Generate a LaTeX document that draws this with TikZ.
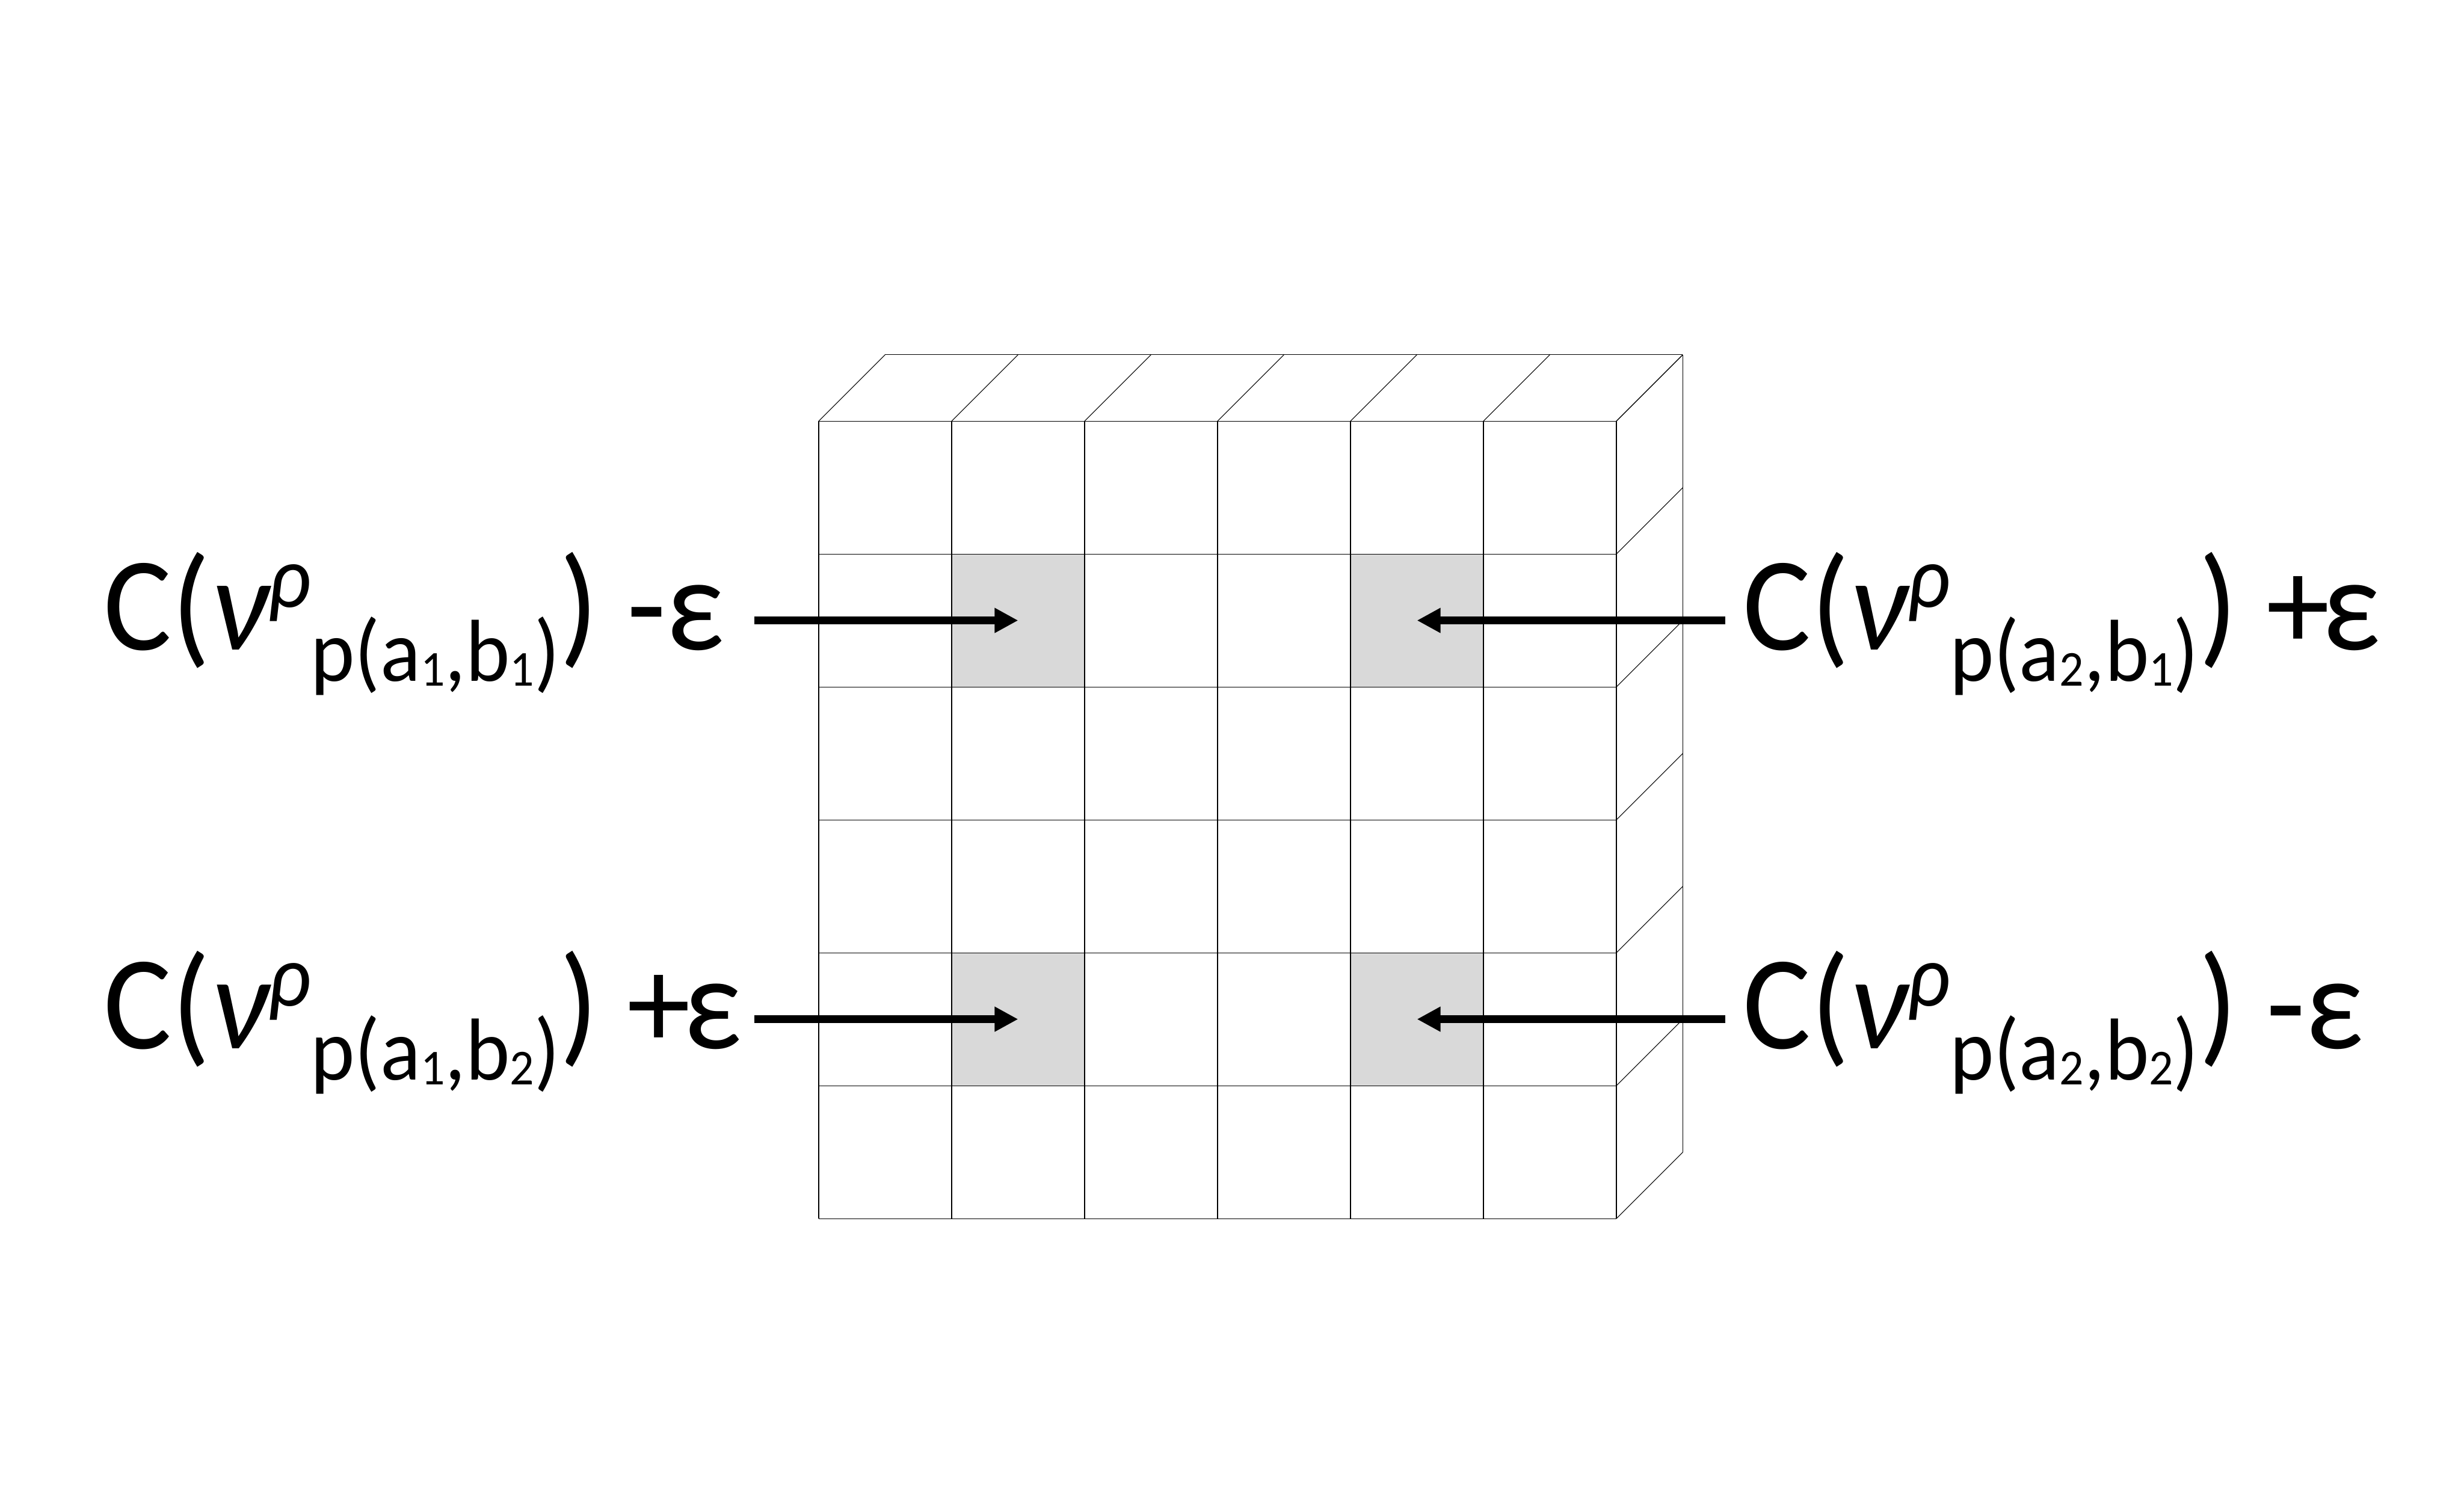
\documentclass[tikz,border=0pt]{standalone}
\usepackage{fontspec}
\usepackage{graphicx}
\setmainfont{Carlito}
\usetikzlibrary{arrows.meta}
\newcommand{\cvlabel}[3]{\scalebox{0.955}[1]{C({\itshape ν}\raisebox{27pt}{\fontsize{56}{60}\selectfont\itshape ρ}\raisebox{-20pt}{\fontsize{56}{60}\selectfont p(a\raisebox{-3pt}{\fontsize{32}{36}\selectfont #1},b\raisebox{-3pt}{\fontsize{32}{36}\selectfont #2})}) #3}}
\tikzset{
  gridline/.style={line width=0.42pt, draw=black},
  hotcell/.style={fill=cellgray, draw=none, minimum width=84.6pt, minimum height=84.6pt, inner sep=0pt},
  arr/.style={line width=4.9pt, -{Triangle[length=15pt,width=15pt]}},
  lbl/.style={inner sep=0pt, anchor=base west, font=\fontsize{85}{100}\selectfont}
}
\definecolor{cellgray}{HTML}{D9D9D9}
\begin{document}
\begin{tikzpicture}[x=1pt,y=-1pt]
\useasboundingbox (0,0) rectangle (1568,958.3);
\def\cs{84.6}
\def\dd{42.2}
% highlighted cells (centres)
\node[hotcell] (g11) at ({521+1.5*\cs},{268+1.5*\cs}) {};
\node[hotcell] (g21) at ({521+4.5*\cs},{268+1.5*\cs}) {};
\node[hotcell] (g12) at ({521+1.5*\cs},{268+4.5*\cs}) {};
\node[hotcell] (g22) at ({521+4.5*\cs},{268+4.5*\cs}) {};
% front face grid
\foreach \i in {0,...,6} {
  \draw[gridline] ({521+\i*\cs},268) -- ({521+\i*\cs},{268+6*\cs});
  \draw[gridline] (521,{268+\i*\cs}) -- ({521+6*\cs},{268+\i*\cs});
}
% top face
\draw[gridline] ({521+\dd},{268-\dd}) -- ({521+6*\cs+\dd},{268-\dd});
\foreach \i in {0,...,6} {
  \draw[gridline] ({521+\i*\cs},268) -- ({521+\i*\cs+\dd},{268-\dd});
}
% right face
\draw[gridline] ({521+6*\cs+\dd},{268-\dd}) -- ({521+6*\cs+\dd},{268+6*\cs-\dd});
\foreach \j in {0,...,6} {
  \draw[gridline] ({521+6*\cs},{268+\j*\cs}) -- ({521+6*\cs+\dd},{268+\j*\cs-\dd});
}
% labels
\node[lbl] (L11) at (66,413.6) {\cvlabel{1}{1}{-ε}};
\node[lbl] (L21) at (1109,413.6) {\cvlabel{2}{1}{+\kern-5ptε}};
\node[lbl] (L12) at (66,667.4) {\cvlabel{1}{2}{+\kern-5ptε}};
\node[lbl] (L22) at (1109,667.4) {\cvlabel{2}{2}{-ε}};
% arrow start points
\coordinate (s11) at (480,{268+1.5*\cs});
\coordinate (s21) at (1098,{268+1.5*\cs});
\coordinate (s12) at (480,{268+4.5*\cs});
\coordinate (s22) at (1098,{268+4.5*\cs});
\draw[arr] (s11) -- (g11.center);
\draw[arr] (s21) -- (g21.center);
\draw[arr] (s12) -- (g12.center);
\draw[arr] (s22) -- (g22.center);
\end{tikzpicture}
\end{document}
